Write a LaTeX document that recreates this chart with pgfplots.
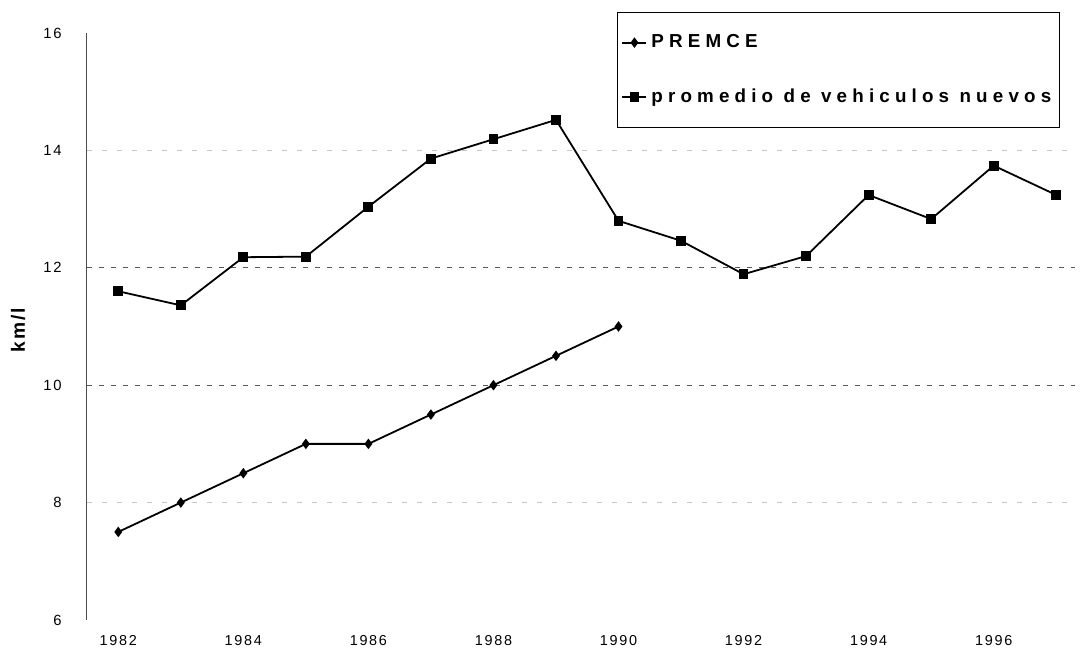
\documentclass[border=0pt]{standalone}
\usepackage{fontspec}
\setmainfont{Liberation Sans}
\newfontfamily\tickfont{Liberation Sans}[LetterSpace=12]
\newfontfamily\legfont{Liberation Sans}[LetterSpace=27.5]
\newfontfamily\labfont{Liberation Sans}[LetterSpace=10]
\usepackage{pgfplots}
\pgfplotsset{compat=1.18}
\begin{document}
\begin{tikzpicture}
\path[use as bounding box] (-43.5pt,-15.5pt) rectangle (500.5pt,310pt);
\begin{axis}[
  at={(0pt,0pt)}, anchor=south west,
  scale only axis, width=494pt, height=293.5pt,
  xmin=1981.5, xmax=1997.3, ymin=6, ymax=16,
  axis y line*=left, axis x line*=bottom,
  x axis line style={draw=none},
  y axis line style={gray!60!black, line width=0.5pt},
  xtick={1982,1984,...,1996}, ytick={6,8,...,16},
  major tick length=0pt, minor tick length=0pt,
  /pgf/number format/assume math mode=true,
  /pgf/number format/1000 sep={},
  xticklabel style={font=\tickfont\fontsize{7.2}{8}\selectfont, anchor=north, inner sep=0pt, yshift=-7.5pt},
  yticklabel style={font=\tickfont\fontsize{7.4}{8}\selectfont, anchor=east, inner sep=0pt, xshift=-12.5pt},
  extra y ticks={10,12}, extra y tick labels={},
  extra y tick style={grid=major, major grid style={gray!70!black, line width=0.5pt, dash pattern=on 2.5pt off 3.5pt}},
  minor ytick={8,14}, yminorgrids,
  minor grid style={gray!45, line width=0.5pt, dash pattern=on 2.5pt off 5pt},
  ylabel={km/l},
  every axis y label/.style={at={(axis description cs:-0.0698,0.494)}, rotate=90, anchor=center, font=\labfont\bfseries\fontsize{9.6}{11}\selectfont},
  legend cell align=left,
  legend style={at={(axis description cs:0.5364,1.0358)}, anchor=north west,
    draw=black, line width=0.6pt, fill=white,
    inner xsep=2pt, inner ysep=9pt, row sep=15pt,
    font=\legfont\bfseries\fontsize{9.4}{11}\selectfont},
  legend image code/.code={\draw[mark repeat=2,mark phase=2,#1] plot coordinates {(0pt,0pt) (6pt,0pt) (12pt,0pt)};},
]
\addplot[black, line width=0.9pt, mark=diamond*, mark size=1.9pt, mark options={solid, fill=black}] coordinates {
(1982,7.5) (1983,8.0) (1984,8.5) (1985,9.0) (1986,9.0) (1987,9.5) (1988,10.0) (1989,10.5) (1990,11.0)};
\addlegendentry{PREMCE}
\addplot[black, line width=0.9pt, mark=square*, mark size=2pt, mark options={solid, fill=black}] coordinates {
(1982,11.6) (1983,11.36) (1984,12.18) (1985,12.19) (1986,13.04) (1987,13.86) (1988,14.19) (1989,14.52)
(1990,12.8) (1991,12.46) (1992,11.89) (1993,12.2) (1994,13.24) (1995,12.83) (1996,13.74) (1997,13.24)};
\addlegendentry{promedio de vehiculos nuevos}
\end{axis}
\end{tikzpicture}
\end{document}
